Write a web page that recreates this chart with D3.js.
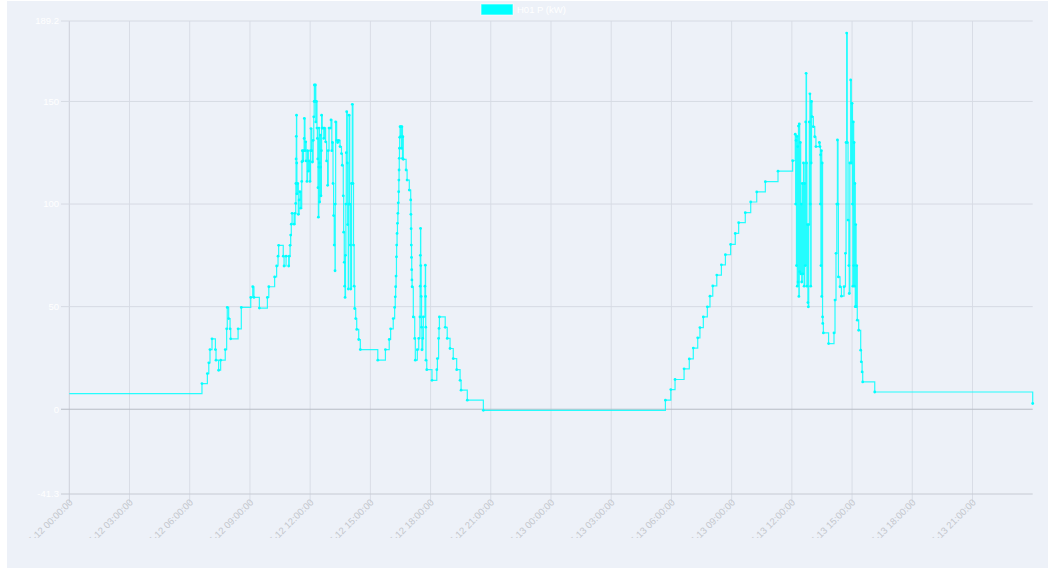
<!DOCTYPE html>
<html><head><meta charset="utf-8">
<script src="https://cdn.jsdelivr.net/npm/d3@7"></script>
<style>body{margin:0;background:#fff}svg{display:block;font-family:"Liberation Sans",Arial,sans-serif}</style>
</head><body><svg id="c" width="1048" height="569"></svg>
<script>
// ---- data: [hour since 12th 00:00, kW] ----
const seriesName = "H01 P (kW)";
const day1Morning = [[0,7.6],[6.61,12.5],[6.88,17.4],[6.95,22.6],[7.01,29.1],[7.11,34.3],[7.28,29.1],[7.31,23.9],[7.44,19.0],[7.54,23.9],[7.77,29.1],[7.84,39.2],[7.87,49.6],[7.94,44.2],[8.01,39.2],[8.04,34.3],[8.41,39.2],[8.57,49.6],[9.04,54.5],[9.14,59.7],[9.20,54.5],[9.47,49.3],[9.87,54.5],[9.94,59.7],[10.23,64.5],[10.33,69.8],[10.40,74.6],[10.43,79.9],[10.66,74.6],[10.70,69.8],[10.80,74.6],[10.93,69.8],[10.96,74.6],[11.00,79.9],[11.03,84.9],[11.06,90.2],[11.10,95.5],[11.20,90.2],[11.25,95.5],[11.28,100.3]];
const day1Noon = [[11.29,110],[11.30,122],[11.31,133],[11.32,143.3],[11.33,120],[11.34,105],[11.38,110],[11.41,95],[11.45,102],[11.49,106],[11.53,98],[11.58,111],[11.59,120.6],[11.61,126],[11.64,121],[11.67,126],[11.70,132],[11.71,141.7],[11.74,126],[11.78,130.3],[11.80,121],[11.84,111],[11.87,126],[11.91,116],[11.95,121],[11.99,111],[12.02,126],[12.04,136.8],[12.08,126],[12.11,120.5],[12.15,131],[12.18,142.5],[12.20,150],[12.21,158],[12.24,150],[12.26,158],[12.28,140],[12.31,150],[12.34,137],[12.36,132],[12.38,122],[12.39,108],[12.41,93.6],[12.43,118],[12.44,137],[12.46,120],[12.47,101],[12.49,118],[12.51,133.6],[12.52,118],[12.54,104],[12.56,126],[12.57,143.3],[12.60,137],[12.64,137],[12.68,132],[12.71,137],[12.77,130.3],[12.82,121],[12.87,109.1],[12.90,126],[12.94,137],[13.00,137],[13.04,141],[13.08,126],[13.11,130],[13.14,110],[13.17,94.4],[13.20,80],[13.24,67.5],[13.25,100],[13.27,140],[13.32,131],[13.37,130],[13.42,131],[13.49,128],[13.56,124.6],[13.60,118.9],[13.65,104],[13.67,86.3],[13.70,71.6],[13.72,60],[13.74,54.5],[13.76,75],[13.78,100],[13.80,125],[13.82,145],[13.85,120],[13.87,90],[13.90,58.6],[13.92,100],[13.94,143.3],[13.97,100],[14.00,80],[14.02,58.6],[14.06,110],[14.10,148.6],[14.13,110],[14.16,80],[14.19,60],[14.22,49.1],[14.27,44.2],[14.32,38.9],[14.42,34.0],[14.50,29.1],[15.37,23.9],[15.75,29.1],[15.94,34.0],[16.01,39.2],[16.14,44.2],[16.21,49.6],[16.24,54.8]];
const day1Evening = [[16.26,59.7],[16.28,64.9],[16.30,74.3],[16.31,80],[16.33,85.7],[16.35,90.6],[16.37,95.5],[16.39,100.6],[16.41,106],[16.42,111.7],[16.43,116.6],[16.44,122.3],[16.45,127.2],[16.46,132.5],[16.48,137.7],[16.50,132.8],[16.52,137.7],[16.55,127.2],[16.57,137.7],[16.60,122.3],[16.62,132.8],[16.64,121.8],[16.78,116.6],[16.83,111.7],[16.94,106.8],[17.01,102],[17.02,95],[17.03,88],[17.04,80],[17.05,74],[17.06,68],[17.07,63],[17.08,59.7],[17.14,45],[17.21,34.5],[17.24,23.9],[17.34,29.0],[17.41,34.5],[17.47,45],[17.48,60],[17.49,75],[17.50,88.1],[17.51,70],[17.53,55],[17.55,40],[17.57,29.0],[17.61,34.5],[17.64,45],[17.72,60],[17.74,70.2],[17.75,55],[17.76,40],[17.77,23.9],[17.81,19.3],[18.07,14.1],[18.31,19.3],[18.34,24.7],[18.40,34.5],[18.42,39.4],[18.44,45.0],[18.73,39.9],[18.83,34.5],[18.97,29.6],[19.13,24.7],[19.30,19.3],[19.47,14.1],[19.52,9.3],[19.83,4.4],[20.63,-0.5]];
const day2Morning = [[29.70,4.4],[29.97,9.6],[30.18,14.5],[30.63,19.7],[30.89,24.5],[31.09,29.8],[31.31,34.8],[31.42,39.8],[31.59,45.0],[31.79,49.9],[31.92,55.1],[32.06,60.1],[32.26,65.4],[32.49,70.4],[32.69,75.3],[32.95,80.3],[33.18,85.7],[33.35,90.9],[33.68,95.8],[33.95,101],[34.25,105.9],[34.68,110.9],[35.31,116.0],[36.04,121.1]];
const day2Noon = [[36.17,134],[36.19,100],[36.21,131],[36.23,70],[36.25,133],[36.27,60],[36.29,128],[36.31,62],[36.33,138],[36.35,55],[36.37,139],[36.39,67],[36.42,130],[36.44,66],[36.47,100],[36.49,62],[36.52,110],[36.55,66],[36.58,120],[36.61,60],[36.64,110],[36.67,70],[36.69,140],[36.71,163.7],[36.73,120],[36.75,60],[36.78,90],[36.80,52],[36.82,49.9],[36.84,90],[36.87,140],[36.90,153.7],[36.92,100],[36.94,60],[36.96,120],[36.98,150],[37.00,142.6],[37.07,137.7],[37.14,132.8],[37.20,128],[37.37,130],[37.40,128],[37.42,100],[37.43,124],[37.45,70],[37.47,126],[37.49,55],[37.51,120],[37.53,45],[37.54,41.8],[37.57,37.2],[37.83,32],[38.10,37.2],[38.15,53.2],[38.20,76],[38.24,100],[38.27,131.2],[38.30,100],[38.32,64.5],[38.40,59.7],[38.47,55.1],[38.60,59.7],[38.67,76],[38.70,130],[38.73,183.3],[38.76,130],[38.80,92.2],[38.84,70],[38.86,56.4],[38.89,120],[38.93,160.5],[38.96,120],[39.00,149.1],[39.02,100],[39.04,60],[39.06,140],[39.08,70],[39.10,130],[39.12,60],[39.14,110],[39.16,50],[39.18,90],[39.20,50],[39.23,70],[39.26,43.4],[39.33,38.5],[39.43,28.8],[39.46,23.1],[39.50,18.2],[39.53,13.3],[40.13,8.4],[48.0,2.8]];
const xTickHours = [0,3,6,9,12,15,18,21,24,27,30,33,36,39,42,45];
const xTickLabels = ["2024-05-12 00:00:00","2024-05-12 03:00:00","2024-05-12 06:00:00","2024-05-12 09:00:00","2024-05-12 12:00:00","2024-05-12 15:00:00","2024-05-12 18:00:00","2024-05-12 21:00:00","2024-05-13 00:00:00","2024-05-13 03:00:00","2024-05-13 06:00:00","2024-05-13 09:00:00","2024-05-13 12:00:00","2024-05-13 15:00:00","2024-05-13 18:00:00","2024-05-13 21:00:00"];
const yTickValues = [-41.3,0,50,100,150,189.2];
const yTickLabels = ["-41.3","0","50","100","150","189.2"];

const data = [].concat(day1Morning, day1Noon, day1Evening, day2Morning, day2Noon);

const svg = d3.select('#c');
svg.append('rect').attr('x',7).attr('y',1).attr('width',1041).attr('height',567).attr('fill','#edf1f8');

const x = d3.scaleLinear().domain([0,48]).range([69.3,1032.7]);
const y = d3.scaleLinear().domain([-41.3,189.2]).range([494,21]);

const grid = svg.append('g');
grid.selectAll('line.v').data(xTickHours).enter().append('line')
  .attr('x1',d=>x(d)).attr('x2',d=>x(d)).attr('y1',y(189.2)).attr('y2',503)
  .attr('stroke',d=>d===0?'#cdd1da':'#d9dde6').attr('stroke-width',1);
grid.selectAll('line.h').data(yTickValues).enter().append('line')
  .attr('x1',61).attr('x2',x(48)).attr('y1',d=>y(d)).attr('y2',d=>y(d))
  .attr('stroke',d=>d===0?'#b7bbc5':(d===-41.3?'#c6cad3':'#d6dae3')).attr('stroke-width',1);

svg.append('g').selectAll('text').data(yTickValues).enter().append('text')
  .attr('x',59).attr('y',d=>y(d)).attr('dy','0.35em').attr('text-anchor','end')
  .attr('fill','#ffffff').attr('font-size',9.5).text((d,i)=>yTickLabels[i]);

svg.append('clipPath').attr('id','xl').append('rect').attr('x',0).attr('y',0).attr('width',1048).attr('height',538);
svg.append('g').attr('clip-path','url(#xl)').selectAll('text').data(xTickHours).enter().append('text')
  .attr('transform',d=>`translate(${x(d)+4},503) rotate(-45)`)
  .attr('text-anchor','end').attr('fill','#c4c7cd').attr('font-size',9.5)
  .text((d,i)=>xTickLabels[i]);

const line = d3.line().x(d=>x(d[0])).y(d=>y(d[1])).curve(d3.curveStepAfter);
svg.append('path').datum(data).attr('d',line).attr('fill','none')
  .attr('stroke','#00ffff').attr('stroke-width',1.2).attr('stroke-opacity',0.85);
svg.append('g').selectAll('circle').data(data.slice(1)).enter().append('circle')
  .attr('cx',d=>x(d[0])).attr('cy',d=>y(d[1])).attr('r',1.4).attr('fill','#00ffff');

// legend
svg.append('rect').attr('x',481).attr('y',4).attr('width',32).attr('height',11)
  .attr('fill','#00ffff').attr('stroke','#ffffff').attr('stroke-opacity',0.6).attr('stroke-width',1);
svg.append('text').attr('x',517).attr('y',13.3).attr('fill','#ffffff').attr('font-size',9.5).text(seriesName);
</script></body></html>
